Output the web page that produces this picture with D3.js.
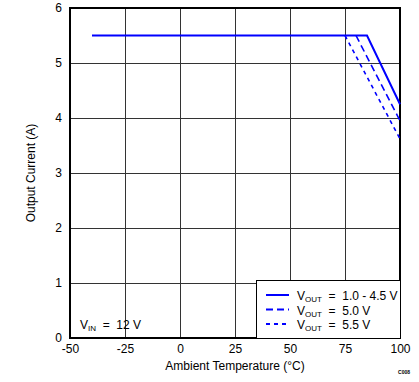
<!DOCTYPE html>
<html><head><meta charset="utf-8">
<script src="https://cdn.jsdelivr.net/npm/d3@7"></script>
<style>body{margin:0;background:#fff}text{font-family:"Liberation Sans",Arial,sans-serif}</style>
</head><body>
<svg id="c" width="419" height="382"></svg>
<script>
const xTicks = [-50, -25, 0, 25, 50, 75, 100];
const yTicks = [0, 1, 2, 3, 4, 5, 6];
const seriesNames = ["1.0 - 4.5 V", "5.0 V", "5.5 V"];
const seriesTemp = [[-40, 85, 100], [80, 100], [75, 100]];
const seriesCurrent = [[5.5, 5.5, 4.25], [5.5, 3.95], [5.5, 3.62]];
const seriesDash = [null, "7,4", "4,4"];

const svg = d3.select("#c");
const x = d3.scaleLinear().domain([-50, 100]).range([70, 400]);
const y = d3.scaleLinear().domain([0, 6]).range([338, 8]);

// grid
const g = svg.append("g");
g.selectAll(".vx").data(xTicks.slice(1, -1)).enter().append("line")
  .attr("x1", d => x(d)).attr("x2", d => x(d)).attr("y1", y(0)).attr("y2", y(6))
  .attr("stroke", "#333").attr("stroke-width", 1).attr("shape-rendering", "crispEdges");
g.selectAll(".hy").data(yTicks.slice(1, -1)).enter().append("line")
  .attr("x1", x(-50)).attr("x2", x(100)).attr("y1", d => y(d)).attr("y2", d => y(d))
  .attr("stroke", "#333").attr("stroke-width", 1).attr("shape-rendering", "crispEdges");
svg.append("rect").attr("x", x(-50)).attr("y", y(6)).attr("width", x(100) - x(-50)).attr("height", y(0) - y(6))
  .attr("fill", "none").attr("stroke", "#000").attr("stroke-width", 1.5).attr("shape-rendering", "crispEdges");

// axes labels
const xa = svg.append("g").attr("transform", `translate(0,${y(0)})`)
  .call(d3.axisBottom(x).tickValues(xTicks).tickSize(0).tickPadding(6).tickFormat(d => String(d)));
xa.select(".domain").remove();
xa.selectAll("text").attr("font-size", 12).attr("fill", "#000").attr("font-family", "Liberation Sans, Arial, sans-serif");
const ya = svg.append("g").attr("transform", `translate(${x(-50)},0)`)
  .call(d3.axisLeft(y).tickValues(yTicks).tickSize(0).tickPadding(8).tickFormat(d => String(d)));
ya.select(".domain").remove();
ya.selectAll("text").attr("font-size", 12).attr("fill", "#000").attr("font-family", "Liberation Sans, Arial, sans-serif");

svg.append("text").attr("x", 235).attr("y", 370).attr("text-anchor", "middle").attr("font-size", 12)
  .text("Ambient Temperature (°C)");
svg.append("text").attr("transform", `translate(35,${(y(0) + y(6)) / 2}) rotate(-90)`).attr("text-anchor", "middle")
  .attr("font-size", 12).text("Output Current (A)");
svg.append("text").attr("x", 410).attr("y", 374).attr("text-anchor", "end").attr("font-size", 5).attr("font-weight", "bold").text("C008");

// series
const line = d3.line().x(d => x(d[0])).y(d => y(d[1]));
seriesTemp.forEach((t, i) => {
  const pts = t.map((v, j) => [v, seriesCurrent[i][j]]);
  svg.append("path").attr("d", line(pts)).attr("fill", "none").attr("stroke", "#0000ff")
    .attr("stroke-width", i === 0 ? 2 : 1.6).attr("stroke-dasharray", seriesDash[i]);
});

// legend
svg.append("rect").attr("x", 256).attr("y", 280).attr("width", 144).attr("height", 58)
  .attr("fill", "#fff").attr("stroke", "#000").attr("stroke-width", 1).attr("shape-rendering", "crispEdges");
seriesNames.forEach((n, i) => {
  const yy = 295 + i * 14.5;
  svg.append("line").attr("x1", 266).attr("x2", 289).attr("y1", yy).attr("y2", yy)
    .attr("stroke", "#0000ff").attr("stroke-width", 2).attr("stroke-dasharray", seriesDash[i]);
  const t = svg.append("text").attr("x", 297).attr("y", yy + 5).attr("font-size", 12);
  t.append("tspan").text("V");
  t.append("tspan").attr("font-size", 8).attr("dy", 2).text("OUT");
  t.append("tspan").attr("dy", -2).text("\u00a0\u00a0=\u00a0\u00a0" + n);
});

// VIN
const vt = svg.append("text").attr("x", 80).attr("y", 329).attr("font-size", 12);
vt.append("tspan").text("V");
vt.append("tspan").attr("font-size", 8).attr("dy", 2).text("IN");
vt.append("tspan").attr("dy", -2).text("\u00a0\u00a0=\u00a0\u00a012 V");
</script>
</body></html>
